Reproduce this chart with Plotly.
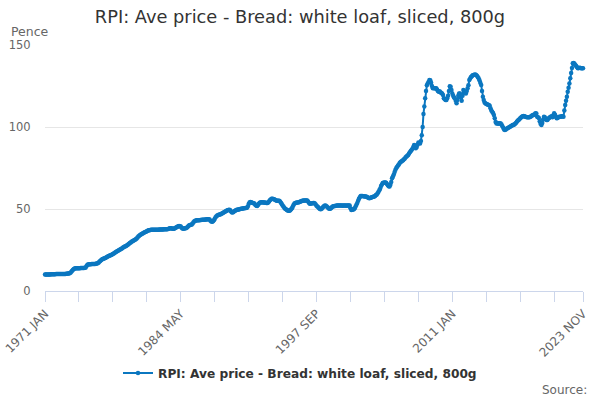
import plotly.graph_objects as go

TITLE = "RPI: Ave price - Bread: white loaf, sliced, 800g"
MONTHS = ["JAN", "FEB", "MAR", "APR", "MAY", "JUN", "JUL", "AUG", "SEP", "OCT", "NOV", "DEC"]
START_YEAR = 1971

# Average price, pence, monthly by year (Jan..Dec)
p1971 = [10.0, 10.0, 10.0, 10.1, 10.1, 10.1, 10.1, 10.2, 10.2, 10.2, 10.2, 10.2]
p1972 = [10.2, 10.3, 10.3, 10.3, 10.3, 10.3, 10.3, 10.3, 10.4, 10.4, 10.4, 10.4]
p1973 = [10.4, 10.5, 10.5, 10.6, 10.6, 10.8, 11.2, 11.8, 12.4, 12.9, 13.4, 13.7]
p1974 = [13.8, 13.8, 13.9, 13.9, 13.9, 13.9, 14.0, 14.0, 14.0, 14.1, 14.1, 14.2]
p1975 = [14.4, 15.2, 16.0, 16.2, 16.3, 16.3, 16.3, 16.4, 16.4, 16.4, 16.5, 16.5]
p1976 = [16.6, 16.7, 16.9, 17.3, 17.8, 18.3, 18.8, 19.2, 19.5, 19.7, 19.9, 20.1]
p1977 = [20.4, 20.7, 21.0, 21.3, 21.5, 21.8, 22.0, 22.3, 22.6, 22.9, 23.2, 23.6]
p1978 = [24.0, 24.3, 24.6, 24.9, 25.2, 25.5, 25.8, 26.1, 26.5, 26.9, 27.1, 27.3]
p1979 = [27.6, 28.0, 28.4, 28.8, 29.2, 29.6, 30.0, 30.3, 30.6, 30.9, 31.2, 31.5]
p1980 = [32.0, 32.6, 33.2, 33.7, 34.1, 34.5, 34.8, 35.0, 35.3, 35.6, 35.9, 36.2]
p1981 = [36.5, 36.8, 37.0, 37.1, 37.2, 37.3, 37.3, 37.3, 37.3, 37.3, 37.4, 37.4]
p1982 = [37.4, 37.4, 37.4, 37.5, 37.5, 37.5, 37.5, 37.5, 37.6, 37.6, 37.6, 37.6]
p1983 = [37.7, 37.8, 38.0, 38.2, 38.3, 38.2, 38.0, 37.9, 38.0, 38.2, 38.5, 38.8]
p1984 = [39.2, 39.5, 39.6, 39.5, 39.3, 38.6, 38.1, 38.0, 38.1, 38.2, 38.3, 38.6]
p1985 = [39.0, 39.6, 40.1, 40.3, 40.4, 40.6, 41.2, 41.9, 42.5, 42.9, 43.0, 43.1]
p1986 = [43.1, 43.2, 43.2, 43.3, 43.3, 43.4, 43.4, 43.5, 43.5, 43.6, 43.6, 43.7]
p1987 = [43.8, 43.8, 43.6, 42.8, 42.4, 42.3, 42.5, 43.2, 44.1, 45.0, 45.6, 46.0]
p1988 = [46.3, 46.5, 46.6, 46.8, 47.1, 47.4, 47.7, 48.0, 48.3, 48.6, 48.9, 49.2]
p1989 = [49.4, 49.6, 49.4, 48.6, 48.0, 47.8, 48.2, 48.7, 49.0, 49.3, 49.5, 49.6]
p1990 = [49.7, 49.8, 50.0, 50.1, 50.2, 50.3, 50.4, 50.5, 50.6, 50.6, 50.8, 51.5]
p1991 = [53.0, 54.0, 54.2, 54.1, 53.8, 53.6, 53.5, 53.2, 52.5, 52.0, 51.9, 52.5]
p1992 = [53.2, 53.8, 54.0, 54.1, 54.1, 54.0, 54.0, 53.9, 53.8, 53.7, 53.6, 54.0]
p1993 = [54.6, 55.3, 55.8, 56.2, 56.3, 56.1, 55.9, 55.6, 55.3, 55.1, 55.0, 55.0]
p1994 = [55.0, 54.6, 53.8, 53.0, 52.2, 51.5, 50.8, 50.2, 49.8, 49.4, 49.1, 48.9]
p1995 = [49.0, 49.3, 49.8, 50.5, 51.5, 52.6, 53.3, 53.6, 53.8, 53.9, 54.0, 54.1]
p1996 = [54.2, 54.6, 54.8, 55.0, 55.1, 55.2, 55.2, 55.2, 55.2, 55.2, 54.5, 53.8]
p1997 = [53.2, 53.3, 53.4, 53.5, 53.6, 53.6, 53.4, 52.8, 52.0, 51.5, 51.0, 50.5]
p1998 = [50.0, 49.9, 50.2, 50.8, 51.4, 51.9, 52.1, 52.0, 51.6, 51.0, 50.5, 50.1]
p1999 = [50.1, 50.4, 51.0, 51.5, 51.7, 51.8, 51.9, 52.0, 52.1, 52.1, 52.1, 52.1]
p2000 = [52.1, 52.2, 52.1, 52.0, 52.1, 52.2, 52.1, 52.0, 52.1, 52.2, 52.1, 52.1]
p2001 = [50.5, 49.4, 49.5, 49.7, 49.9, 50.5, 51.5, 52.6, 53.6, 55.0, 56.3, 57.2]
p2002 = [58.0, 58.0, 57.9, 57.8, 57.7, 57.6, 57.6, 57.4, 57.1, 56.8, 56.6, 56.7]
p2003 = [56.9, 57.1, 57.3, 57.4, 57.6, 58.0, 58.5, 58.9, 59.6, 60.5, 61.5, 62.5]
p2004 = [64.0, 65.0, 65.8, 66.0, 66.2, 66.2, 66.0, 65.2, 64.5, 63.8, 63.7, 64.8]
p2005 = [66.5, 68.8, 69.8, 71.0, 72.5, 74.0, 75.0, 75.8, 76.5, 77.2, 78.0, 78.6]
p2006 = [79.0, 79.4, 79.8, 80.3, 80.8, 81.5, 82.0, 82.4, 83.0, 83.8, 84.6, 85.4]
p2007 = [86.0, 86.8, 87.8, 89.0, 88.5, 87.0, 87.8, 89.2, 90.6, 90.2, 90.0, 91.5]
p2008 = [95.0, 100.0, 108.0, 112.5, 117.5, 122.0, 125.5, 126.6, 127.5, 128.7, 128.5, 127.0]
p2009 = [125.0, 123.6, 123.8, 123.6, 123.4, 123.6, 122.8, 122.0, 121.5, 121.8, 121.2, 120.8]
p2010 = [120.5, 119.5, 117.5, 117.0, 116.5, 116.5, 117.5, 119.0, 122.0, 124.8, 124.6, 122.6]
p2011 = [120.5, 119.0, 118.0, 117.5, 116.0, 114.5, 116.5, 119.0, 120.5, 120.5, 118.0, 116.0]
p2012 = [119.0, 122.6, 121.5, 121.0, 120.5, 122.0, 123.6, 125.5, 128.7, 129.5, 130.5, 131.0]
p2013 = [131.5, 131.7, 131.8, 132.0, 131.7, 131.2, 130.5, 129.7, 128.5, 127.0, 125.6, 122.0]
p2014 = [118.5, 116.5, 115.0, 114.5, 114.0, 113.8, 113.5, 113.4, 113.0, 111.5, 110.0, 109.3]
p2015 = [108.5, 107.3, 105.3, 103.0, 102.2, 102.4, 102.0, 102.2, 102.3, 102.2, 101.5, 100.5]
p2016 = [99.5, 98.5, 98.2, 98.5, 99.0, 99.2, 99.5, 99.8, 100.2, 100.5, 100.8, 101.2]
p2017 = [101.2, 101.5, 102.0, 102.5, 103.2, 103.8, 104.3, 104.8, 105.3, 105.8, 106.2, 106.5]
p2018 = [106.7, 106.6, 106.3, 106.1, 106.0, 105.9, 105.9, 106.0, 106.3, 106.6, 107.0, 107.3]
p2019 = [107.3, 107.8, 108.4, 108.2, 106.3, 106.0, 105.5, 103.5, 102.0, 101.2, 102.5, 104.5]
p2020 = [106.3, 106.0, 105.0, 104.3, 104.3, 105.0, 105.5, 106.0, 106.3, 106.5, 106.0, 107.0]
p2021 = [108.4, 107.5, 106.3, 105.3, 105.5, 106.0, 106.2, 106.3, 106.3, 106.5, 106.5, 106.3]
p2022 = [110.0, 113.4, 116.0, 118.5, 121.5, 124.0, 126.5, 129.7, 133.0, 136.0, 138.8, 139.0]
p2023 = [138.5, 137.8, 137.2, 136.5, 135.8, 136.0, 136.2, 136.0, 135.8, 135.8, 135.8]

yearly = [p1971, p1972, p1973, p1974, p1975, p1976, p1977, p1978, p1979, p1980,
          p1981, p1982, p1983, p1984, p1985, p1986, p1987, p1988, p1989, p1990,
          p1991, p1992, p1993, p1994, p1995, p1996, p1997, p1998, p1999, p2000,
          p2001, p2002, p2003, p2004, p2005, p2006, p2007, p2008, p2009, p2010,
          p2011, p2012, p2013, p2014, p2015, p2016, p2017, p2018, p2019, p2020,
          p2021, p2022, p2023]

categories = []
values = []
for i, row in enumerate(yearly):
    for j, v in enumerate(row):
        categories.append(f"{START_YEAR + i} {MONTHS[j]}")
        values.append(v)

label_cats = ["1971 JAN", "1984 MAY", "1997 SEP", "2011 JAN", "2023 NOV"]
tick_step = 40
tick_idx = list(range(0, len(categories), tick_step))
if tick_idx[-1] != len(categories) - 1:
    tick_idx.append(len(categories) - 1)
tickvals = [categories[k] for k in tick_idx]
ticktext = [c if c in label_cats else "" for c in tickvals]

BLUE = "#0b77c0"
FONT = "DejaVu Sans"

fig = go.Figure()
fig.add_trace(go.Scatter(
    x=categories, y=values, mode="lines+markers",
    name=TITLE,
    line=dict(color=BLUE, width=2),
    marker=dict(color=BLUE, size=4.5),
    cliponaxis=False,
))

fig.update_layout(
    width=600, height=400,
    paper_bgcolor="white", plot_bgcolor="white",
    margin=dict(l=45, r=17, t=45, b=109, autoexpand=False),
    font=dict(family=FONT, color="#666666", size=11),
    title=dict(text=TITLE, x=0.5, xref="container", xanchor="center",
               y=1 - 17 / 400, yref="container", yanchor="middle",
               font=dict(family=FONT, size=17.8, color="#333333")),
    showlegend=True,
    legend=dict(orientation="h", xref="container", yref="container",
                x=0.5, xanchor="center", y=1 - 373 / 400, yanchor="middle",
                font=dict(family=FONT, size=12.2, color="#333333", weight="bold"),
                itemwidth=30),
    xaxis=dict(type="category", range=[0, len(categories) - 1], automargin=False,
               tickmode="array", tickvals=tickvals, ticktext=ticktext,
               tickangle=-45, ticks="outside", ticklen=10, tickcolor="#ccd6eb",
               showline=True, linecolor="#ccd6eb", linewidth=1,
               showgrid=False, zeroline=False,
               tickfont=dict(family=FONT, size=12, color="#666666")),
    yaxis=dict(range=[0, 150], tickvals=[0, 50, 100, 150], automargin=False,
               showgrid=True, gridcolor="#e6e6e6", gridwidth=1,
               zeroline=False, showline=False,
               ticks="outside", ticklen=11, tickcolor="rgba(0,0,0,0)",
               tickfont=dict(family=FONT, size=11.5, color="#666666")),
    annotations=[
        dict(text="Pence", xref="paper", yref="paper", x=(9 - 45) / 538, y=(291 - 31) / 246,
             xanchor="left", yanchor="middle", showarrow=False,
             font=dict(family=FONT, size=12.5, color="#666666")),
        dict(text="Source:", xref="paper", yref="paper", x=(589 - 45) / 538, y=(291 - 390) / 246,
             xanchor="right", yanchor="middle", showarrow=False,
             font=dict(family=FONT, size=12, color="#666666")),
    ],
)

fig.write_html(
    "out.html",
    config={"displayModeBar": False},
    post_script="document.body.style.margin='0';document.body.style.padding='0';document.body.style.overflow='hidden';",
)
